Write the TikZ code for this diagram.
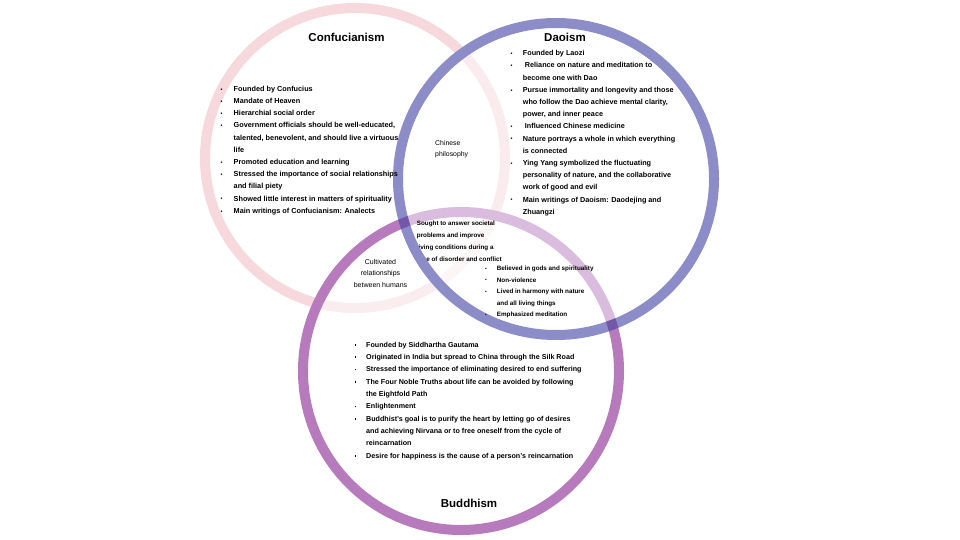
\documentclass[tikz,border=0pt]{standalone}
\usepackage{fontspec}
\setmainfont{Liberation Sans}
\usepackage{graphicx}
\definecolor{pinkC}{HTML}{F6D8DD}
\definecolor{blueC}{HTML}{8C8CC8}
\definecolor{buddC}{HTML}{B67ABD}
\definecolor{crossC}{HTML}{7458A8}
\newlength{\bulw}
\newcommand{\bi}{\makebox[\bulw][l]{\raisebox{0.2pt}{\scalebox{0.75}{•}}}}
\newcommand{\bsq}{\makebox[\bulw][l]{\hspace*{0.6pt}\rule[1.5pt]{1.7pt}{1.7pt}}}
\newcommand{\ci}{\hspace*{\bulw}}
\begin{document}
\begin{tikzpicture}[x=1pt,y=-1pt,
  ring/.style={line width=10pt},
  daoring/.style={x radius=158pt, y radius=156pt},
  ttl/.style={font=\bfseries\fontsize{11.5}{13}\selectfont, anchor=base, inner sep=0},
  biglist/.style n args={3}{font=\setlength{\bulw}{#1}\bfseries\fontsize{#3}{#2}\selectfont, anchor=base west, inner sep=0, align=left},
  smalllist/.style 2 args={font=\setlength{\bulw}{#1}\bfseries\fontsize{6.3}{#2}\selectfont, anchor=base west, inner sep=0, align=left},
  plainlbl/.style={font=\fontsize{6.9}{11}\selectfont, anchor=base west, inner sep=0, align=left},
  culbl/.style={font=\fontsize{7}{11.5}\selectfont, anchor=base, inner sep=0, align=center}]
\useasboundingbox (0,0) rectangle (960,540);
\fill[white] (0,0) rectangle (960,540);
% Confucianism circle
\draw[ring, pinkC] (355,158) ellipse [x radius=150pt, y radius=150pt];
% Buddhism circle
\fill[white, opacity=0.55] (461,371) ellipse [x radius=158pt, y radius=159pt];
\draw[ring, buddC] (461,371) ellipse [x radius=158pt, y radius=159pt];
% Daoism circle fill
\fill[white, opacity=0.5] (556,179) ellipse [daoring];
% text partly under the Daoism ring (anchor = baseline of last line)
\node[smalllist={0pt}{12pt}] (sought) at (416.7,261)
  {Sought to answer societal\\problems and improve\\living conditions during a\\time of disorder and conflict};
% Daoism ring
\draw[ring, blueC] (556,179) ellipse [daoring];
% darker crossings of Daoism and Buddhism rings
\begin{scope}[even odd rule]
  \clip (461,371) ellipse [x radius=163pt, y radius=164pt]
        (461,371) ellipse [x radius=153pt, y radius=154pt];
  \draw[ring, crossC] (556,179) ellipse [daoring];
\end{scope}

% titles
\node[ttl] (tconf) at (346.5,41.8) {Confucianism};
\node[ttl] (tdao) at (565,42) {Daoism};
\node[ttl] (tbudd) at (469,507.5) {Buddhism};

% Confucianism list (anchor = baseline of last line)
\node[biglist={13pt}{12.2pt}{7.3}] (lconf) at (220.5,213.3) {%
\bi Founded by Confucius\\
\bi Mandate of Heaven\\
\bi Hierarchial social order\\
\bi Government officials should be well-educated,\\
\ci talented, benevolent, and should live a virtuous\\
\ci life\\
\bi Promoted education and learning\\
\bi Stressed the importance of social relationships\\
\ci and filial piety\\
\bi Showed little interest in matters of spirituality\\
\bi Main writings of Confucianism: Analects};

% Daoism list
\node[biglist={12.2pt}{12.2pt}{7.25}] (ldao) at (510.5,214.2) {%
\bi Founded by Laozi\\
\bi \ Reliance on nature and meditation to\\
\ci become one with Dao\\
\bi Pursue immortality and longevity and those\\
\ci who follow the Dao achieve mental clarity,\\
\ci power, and inner peace\\
\bi \ Influenced Chinese medicine\\
\bi Nature portrays a whole in which everything\\
\ci is connected\\
\bi Ying Yang symbolized the fluctuating\\
\ci personality of nature, and the collaborative\\
\ci work of good and evil\\
\bi Main writings of Daoism: Daodejing and\\
\ci Zhuangzi};

% Buddhism list
\node[biglist={12.2pt}{12.3pt}{7.15}] (lbudd) at (353.8,458) {%
\bsq Founded by Siddhartha Gautama\\
\bsq Originated in India but spread to China through the Silk Road\\
\bsq Stressed the importance of eliminating desired to end suffering\\
\bsq The Four Noble Truths about life can be avoided by following\\
\ci the Eightfold Path\\
\bsq Enlightenment\\
\bsq Buddhist’s goal is to purify the heart by letting go of desires\\
\ci and achieving Nirvana or to free oneself from the cycle of\\
\ci reincarnation\\
\bsq Desire for happiness is the cause of a person’s reincarnation};

% overlap labels
\node[plainlbl] (lphil) at (435,157) {Chinese\\philosophy};
\node[culbl] (lcult) at (380.5,287) {Cultivated\\relationships\\between humans};
\node[smalllist={11.7pt}{11.5pt}] (ldb) at (485,316.5) {%
\bi Believed in gods and spirituality\\
\bi Non-violence\\
\bi Lived in harmony with nature\\
\ci and all living things\\
\bi Emphasized meditation};
\end{tikzpicture}
\end{document}
